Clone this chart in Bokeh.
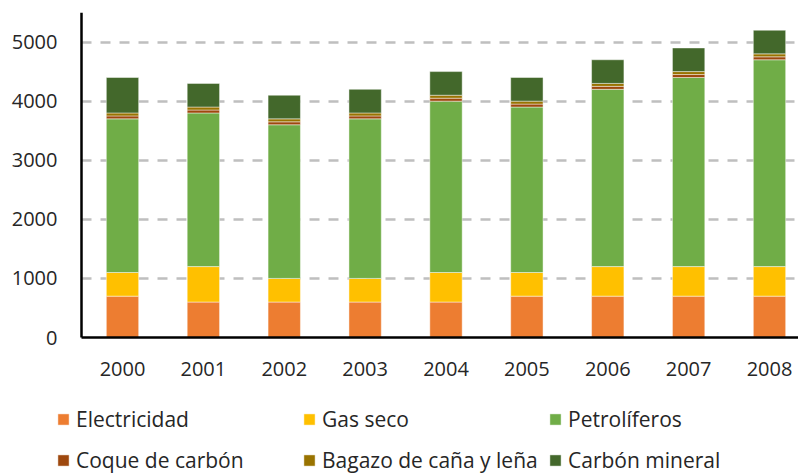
from bokeh.plotting import figure
from bokeh.models import Range1d, FixedTicker, Legend, LegendItem, ColumnDataSource
from bokeh.embed import file_html
from bokeh.resources import INLINE

years = [2000, 2001, 2002, 2003, 2004, 2005, 2006, 2007, 2008]
electricidad = [700, 600, 600, 600, 600, 700, 700, 700, 700]
gas_seco = [400, 600, 400, 400, 500, 400, 500, 500, 500]
petroliferos = [2600, 2600, 2600, 2700, 2900, 2800, 3000, 3200, 3500]
coque_carbon = [50, 50, 50, 50, 50, 50, 50, 50, 50]
bagazo_lena = [50, 50, 50, 50, 50, 50, 50, 50, 50]
carbon_mineral = [600, 400, 400, 400, 400, 400, 400, 400, 400]

series_names = ["Electricidad", "Gas seco", "Petrolíferos",
                "Coque de carbón", "Bagazo de caña y leña", "Carbón mineral"]
series_keys = ["elec", "gas", "petro", "coque", "bagazo", "carbon"]
colors = ["#ED7D31", "#FFC000", "#70AD47", "#9E480E", "#997300", "#43682B"]
y_ticks = [0, 1000, 2000, 3000, 4000, 5000]
grid_ticks = [1000, 2000, 3000, 4000, 5000]

source = ColumnDataSource(data=dict(
    year=years, elec=electricidad, gas=gas_seco, petro=petroliferos,
    coque=coque_carbon, bagazo=bagazo_lena, carbon=carbon_mineral))

FONT = "Open Sans"
TXT = "#262626"

W, H = 798, 475
PX_PER_YEAR = 80.875
X_AXIS_AT = 1999.493          # left end of the category band of the first year
X_END = 2008.3586
Y_TOP = 5500
Y_START = -Y_TOP * (H - 337) / 325.0  # frame continues under the axis for the legend

p = figure(width=W, height=H, output_backend="svg", toolbar_location=None,
           x_range=Range1d(X_AXIS_AT - 81 / PX_PER_YEAR, X_END),
           y_range=Range1d(Y_START, Y_TOP),
           min_border_left=0, min_border_right=0, min_border_top=12,
           min_border_bottom=0)
p.outline_line_color = None
p.background_fill_color = "white"

renderers = p.vbar_stack(series_keys, x="year", width=0.4, source=source,
                         color=colors, line_color="white", line_alpha=0.45,
                         line_width=1)

p.xgrid.grid_line_color = None
p.ygrid.ticker = FixedTicker(ticks=grid_ticks)
p.ygrid.grid_line_color = "#BFBFBF"
p.ygrid.grid_line_width = 2.5
p.ygrid.grid_line_dash = "10 9"
p.ygrid.cross_bounds = (X_AXIS_AT, X_END)

for ax in (p.xaxis[0], p.yaxis[0]):
    ax.axis_line_color = "black"
    ax.axis_line_width = 2.5
    ax.major_tick_line_color = None
    ax.minor_tick_line_color = None
    ax.major_label_text_font = FONT
    ax.major_label_text_font_size = "20px"
    ax.major_label_text_color = TXT

p.xaxis.ticker = FixedTicker(ticks=years)
p.xaxis.major_label_standoff = 18
p.xaxis.fixed_location = 0
p.xaxis.bounds = (X_AXIS_AT, X_END)
p.yaxis.ticker = FixedTicker(ticks=y_ticks)
p.yaxis.major_label_standoff = 18
p.yaxis.fixed_location = X_AXIS_AT
p.yaxis.bounds = (0, Y_TOP)

items = [LegendItem(label=n, renderers=[r]) for n, r in zip(series_names, renderers)]
legend = Legend(items=items, ncols=3, orientation="horizontal",
                location=(56, -3),
                glyph_width=14, glyph_height=14, label_standoff=6,
                label_width=221, label_height=36, spacing=5,
                padding=0, margin=0, border_line_color=None,
                background_fill_alpha=0,
                label_text_font=FONT, label_text_font_size="21px",
                label_text_color=TXT)
p.add_layout(legend)

open("out.html", "w").write(file_html(p, INLINE))
